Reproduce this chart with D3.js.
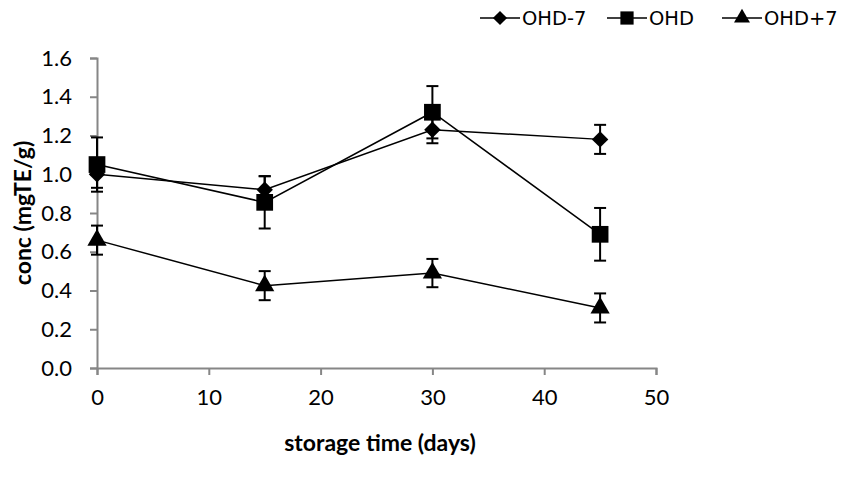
<!DOCTYPE html>
<html>
<head>
<meta charset="utf-8">
<script src="https://cdn.jsdelivr.net/npm/d3@7"></script>
<style>
  body { margin: 0; background: #fff; }
  svg { display: block; }
</style>
</head>
<body>
<script>
// storage time (days) on x
const days = [0, 15, 30, 45];
const seriesNames = ["OHD-7", "OHD", "OHD+7"];
// mean concentration (mgTE/g)
const ohdMinus7 = [1.00, 0.92, 1.23, 1.18];
const ohd = [1.05, 0.855, 1.32, 0.69];
const ohdPlus7 = [0.66, 0.425, 0.49, 0.31];
// error bars (+/-)
const errMinus7 = [0.07, 0.07, 0.07, 0.075];
const errOhd = [0.14, 0.135, 0.135, 0.136];
const errPlus7 = [0.075, 0.075, 0.073, 0.075];
const xTicks = [0, 10, 20, 30, 40, 50];
const yTicks = [0, 0.2, 0.4, 0.6, 0.8, 1.0, 1.2, 1.4, 1.6];

const W = 847, H = 480;
const margin = { left: 97, right: 191, top: 58, bottom: 112 };

const svg = d3.select("body").append("svg")
  .attr("width", W).attr("height", H);

const x = d3.scaleLinear().domain([0, 50]).range([margin.left, W - margin.right]);
const y = d3.scaleLinear().domain([0, 1.6]).range([H - margin.bottom, margin.top]);

const tickFont = "Lato, 'Open Sans', sans-serif";

// axes
const xAxis = d3.axisBottom(x).tickValues(xTicks).tickSize(7).tickPadding(14)
  .tickFormat(d3.format("d"));
const yAxis = d3.axisLeft(y).tickValues(yTicks).tickSize(7).tickPadding(18)
  .tickFormat(d3.format(".1f"));

function styleAxis(g) {
  g.select(".domain").attr("stroke", "#868686").attr("stroke-width", 2);
  g.selectAll(".tick line").attr("stroke", "#868686").attr("stroke-width", 2);
  g.selectAll(".tick text").attr("fill", "#000")
    .style("font-family", tickFont).style("font-size", "22px");
}

svg.append("g").attr("transform", `translate(0,${y(0)})`)
  .call(xAxis.tickSizeOuter(7)).call(styleAxis);
svg.append("g").attr("transform", `translate(${x(0)},0)`)
  .call(yAxis.tickSizeOuter(7)).call(styleAxis);

// axis titles
svg.append("text")
  .attr("x", 380).attr("y", 451)
  .attr("text-anchor", "middle")
  .style("font-family", tickFont).style("font-weight", "bold").style("font-size", "23px")
  .text("storage time (days)");
svg.append("text")
  .attr("transform", `translate(31,${(y(0) + y(1.6)) / 2}) rotate(-90)`)
  .attr("text-anchor", "middle")
  .style("font-family", tickFont).style("font-weight", "bold").style("font-size", "23px")
  .text("conc (mgTE/g)");

// markers
const symbols = {
  "OHD-7": { type: d3.symbolSquare, size: 135, rot: 45, legendSize: 100 },
  "OHD": { type: d3.symbolSquare, size: 280, rot: 0, legendSize: 175 },
  "OHD+7": { type: d3.symbolTriangle, size: 160, rot: 0, legendSize: 110 }
};

const series = [
  { name: "OHD-7", values: ohdMinus7, err: errMinus7 },
  { name: "OHD", values: ohd, err: errOhd },
  { name: "OHD+7", values: ohdPlus7, err: errPlus7 }
];

const line = d3.line().x(d => x(d.day)).y(d => y(d.v));

const plot = svg.append("g");
series.forEach(s => {
  const pts = days.map((d, i) => ({ day: d, v: s.values[i], e: s.err[i] }));
  plot.append("path").datum(pts)
    .attr("d", line).attr("fill", "none")
    .attr("stroke", "#000").attr("stroke-width", 1.5);
});

series.forEach(s => {
  const pts = days.map((d, i) => ({ day: d, v: s.values[i], e: s.err[i] }));
  const eb = plot.append("g");
  eb.selectAll("line.bar").data(pts).join("line")
    .attr("x1", d => x(d.day)).attr("x2", d => x(d.day))
    .attr("y1", d => y(d.v - d.e)).attr("y2", d => y(d.v + d.e))
    .attr("stroke", "#000").attr("stroke-width", 2);
  [-1, 1].forEach(sign => {
    eb.selectAll(null).data(pts).join("line")
      .attr("x1", d => x(d.day) - 6).attr("x2", d => x(d.day) + 6)
      .attr("y1", d => y(d.v + sign * d.e)).attr("y2", d => y(d.v + sign * d.e))
      .attr("stroke", "#000").attr("stroke-width", 2);
  });
});

series.forEach(s => {
  const sym = symbols[s.name];
  const pts = days.map((d, i) => ({ day: d, v: s.values[i] }));
  plot.selectAll(null).data(pts).join("path")
    .attr("d", d3.symbol().type(sym.type).size(sym.size))
    .attr("transform", d => `translate(${x(d.day)},${y(d.v)}) rotate(${sym.rot})`)
    .attr("fill", "#000");
});

// legend
const legendX = [480, 607, 722];
const legend = svg.append("g");
seriesNames.forEach((name, i) => {
  const sym = symbols[name];
  const g = legend.append("g").attr("transform", `translate(${legendX[i]},18)`);
  g.append("line").attr("x1", 0).attr("x2", 40).attr("y1", 0).attr("y2", 0)
    .attr("stroke", "#000").attr("stroke-width", 1.5);
  g.append("path")
    .attr("d", d3.symbol().type(sym.type).size(sym.legendSize))
    .attr("transform", `translate(20,0) rotate(${sym.rot})`)
    .attr("fill", "#000");
  g.append("text").attr("x", 42).attr("y", 7)
    .style("font-family", "'DejaVu Sans', sans-serif").style("font-size", "19.5px")
    .text(name);
});
</script>
</body>
</html>
